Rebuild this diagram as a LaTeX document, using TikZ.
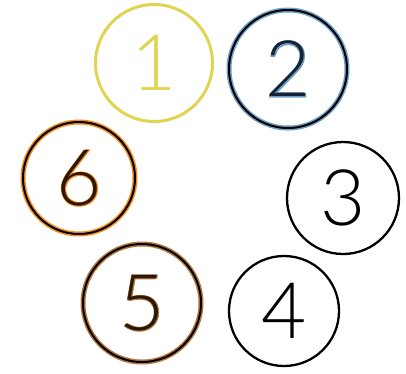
\documentclass[tikz,border=0pt]{standalone}
\usepackage{fontspec}
\setmainfont{Lato}[UprightFont={* Light}]
\usepackage{xcolor}
\definecolor{oneyellow}{RGB}{224,212,82}
\definecolor{twoglow}{RGB}{110,160,200}
\definecolor{twotext}{RGB}{20,35,55}
\definecolor{sixglow}{RGB}{245,140,20}
\definecolor{sixtext}{RGB}{45,22,5}
\definecolor{fiveglow}{RGB}{180,120,60}
\definecolor{fivetext}{RGB}{40,25,10}
% halo text: stroke the glyph outline only
\newcommand{\halotext}[1]{\special{pdf:literal direct 1 Tr 1.6 w}#1\special{pdf:literal direct 0 Tr 0.4 w}}

\begin{document}
\begin{tikzpicture}[
    x=1pt, y=-1pt,
    numcircle/.style={circle, draw=black, line width=2pt, inner sep=0pt,
        font=\fontsize{78}{78}\selectfont},
    glow/.style={numcircle, draw=#1, text=#1, line width=5pt}
]

% Frame
\useasboundingbox (0,0) rectangle (406,373);

% Circle positions
\def\pOne{(154,63)}
\def\pTwo{(288,69)}
\def\pThree{(343,198)}
\def\pFour{(284,311)}
\def\pFive{(142,303)}
\def\pSix{(79,178)}

% Glow rings under the outlined circles
\node[glow=twoglow, minimum size=118pt] (G2) at \pTwo {\halotext{2}};
\node[glow=sixglow, minimum size=112pt] (G6) at \pSix {\halotext{6}};
\node[glow=fiveglow, minimum size=118pt] (G5) at \pFive {\halotext{5}};

% Numbered circles
\node[numcircle, draw=oneyellow, line width=3pt, text=oneyellow, minimum size=117pt] (N1) at \pOne {1};
\node[numcircle, text=twotext, minimum size=118pt] (N2) at \pTwo {2};
\node[numcircle, line width=2.3pt, minimum size=112pt] (N3) at \pThree {3};
\node[numcircle, line width=2.3pt, minimum size=110pt] (N4) at \pFour {4};
\node[numcircle, text=fivetext, minimum size=118pt] (N5) at \pFive {5};
\node[numcircle, text=sixtext, minimum size=112pt] (N6) at \pSix {6};

\end{tikzpicture}
\end{document}
